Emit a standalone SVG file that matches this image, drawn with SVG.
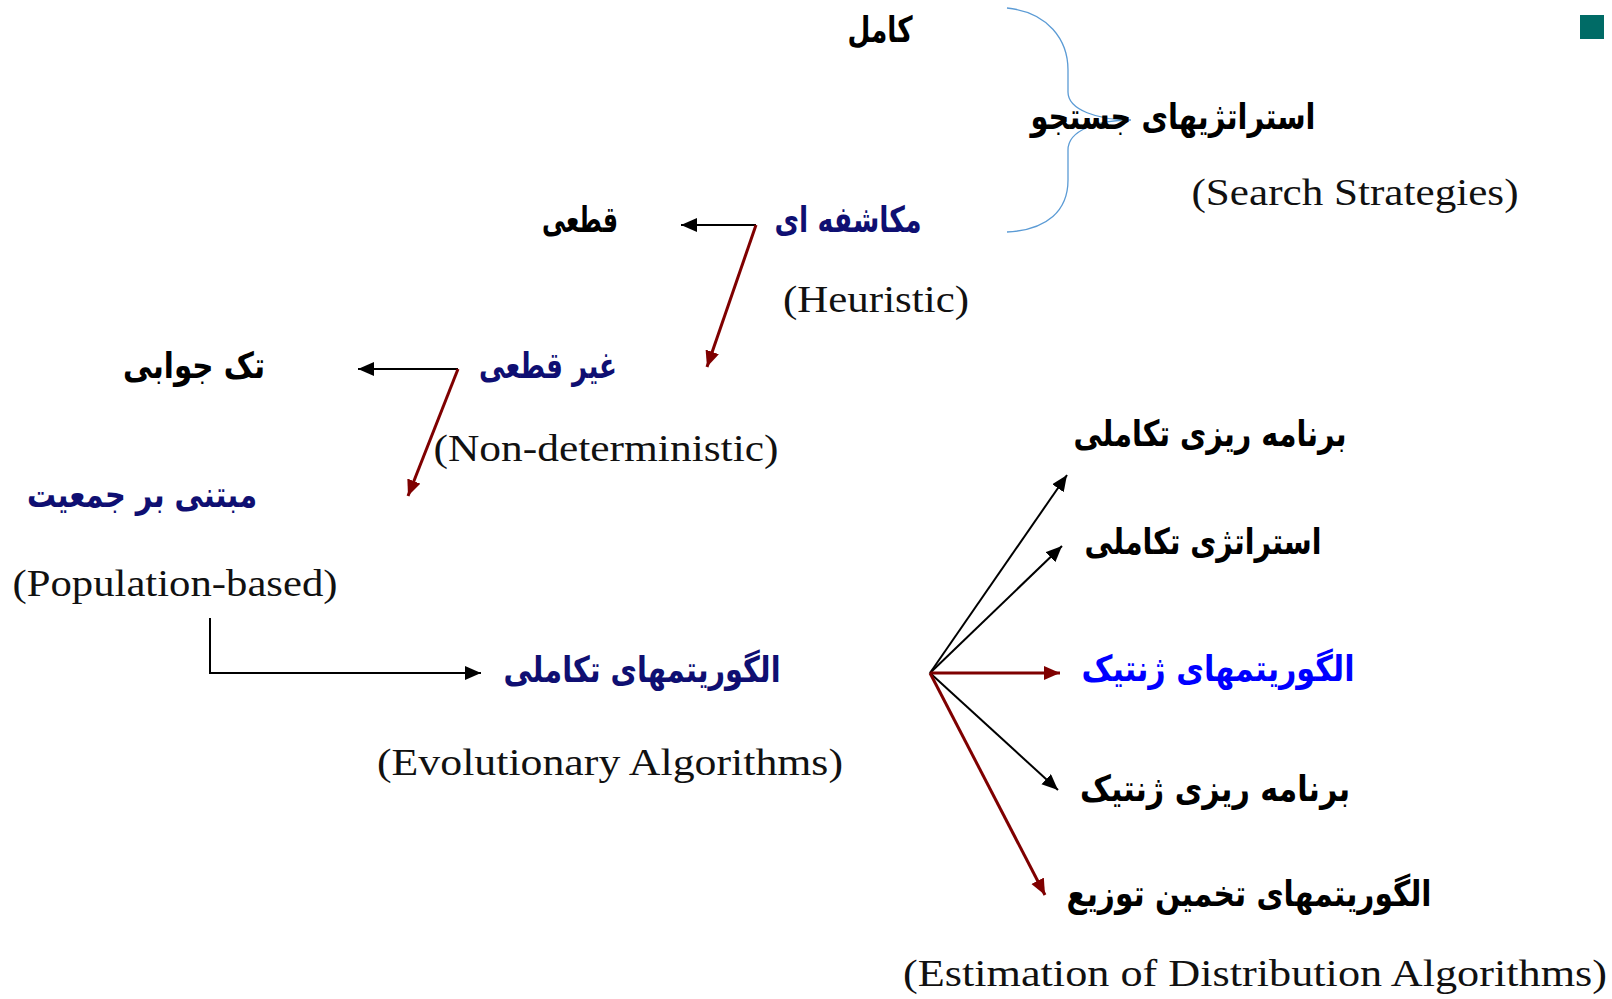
<svg xmlns="http://www.w3.org/2000/svg" width="1612" height="999" viewBox="0 0 1612 999">
<style>
.fa{font-family:"DejaVu Sans",sans-serif;font-weight:bold;font-size:36px;text-anchor:middle}
.blk{fill:#000}
.nav{fill:#0f0f72}
.blu{fill:#0000ff}
.en{font-family:"Liberation Serif",serif;font-size:38px;fill:#111;text-anchor:middle}
.lk{fill:none;stroke:#000;stroke-width:2}
.lr{fill:none;stroke:#7f0000;stroke-width:3}
</style>
<defs>
<marker id="ab" markerUnits="userSpaceOnUse" markerWidth="20" markerHeight="16" refX="16" refY="7" orient="auto"><path d="M0,0 L16,7 L0,14 Z" fill="#000"/></marker>
<marker id="ar" markerUnits="userSpaceOnUse" markerWidth="20" markerHeight="16" refX="16" refY="7" orient="auto"><path d="M0,0 L16,7 L0,14 Z" fill="#7f0000"/></marker>
</defs>
<rect width="1612" height="999" fill="#fff"/>
<rect x="1580" y="15" width="24" height="24" fill="#006b66"/>

<g id="connectors">
<path d="M1007,8 C1048,12 1068,40 1068,70 L1068,92 C1068,110 1098,120 1131,120 C1098,120 1068,130 1068,150 L1068,180 C1068,210 1048,230 1007,232" fill="none" stroke="#5b9bd5" stroke-width="1.3"/>
<path class="lk" d="M756,225 L681,225" marker-end="url(#ab)"/>
<path class="lr" d="M756,225 L707,367" marker-end="url(#ar)"/>
<path class="lk" d="M458,369 L358,369" marker-end="url(#ab)"/>
<path class="lr" d="M458,369 L408,496" marker-end="url(#ar)"/>
<path class="lk" d="M210,618 L210,673 L481,673" marker-end="url(#ab)"/>
<path class="lk" d="M930,673 L1067,475" marker-end="url(#ab)"/>
<path class="lk" d="M930,673 L1062,546" marker-end="url(#ab)"/>
<path class="lr" d="M930,673 L1060,673" marker-end="url(#ar)"/>
<path class="lk" d="M930,673 L1058,790" marker-end="url(#ab)"/>
<path class="lr" d="M930,673 L1045,895" marker-end="url(#ar)"/>
</g>

<g id="n-kamel"><text class="fa blk" x="880" y="42" textLength="65" lengthAdjust="spacingAndGlyphs">کامل</text></g>
<g id="n-search"><text class="fa blk" x="1173" y="129" textLength="285" lengthAdjust="spacingAndGlyphs">استراتژیهای جستجو</text>
<text class="en" x="1355" y="205" textLength="327" lengthAdjust="spacingAndGlyphs">(Search Strategies)</text></g>
<g id="n-heuristic"><text class="fa nav" x="848" y="232" textLength="147" lengthAdjust="spacingAndGlyphs">مکاشفه ای</text>
<text class="en" x="876" y="312" textLength="186" lengthAdjust="spacingAndGlyphs">(Heuristic)</text></g>
<g id="n-ghatei"><text class="fa blk" x="580" y="232" textLength="76" lengthAdjust="spacingAndGlyphs">قطعی</text></g>
<g id="n-nondet"><text class="fa nav" x="548" y="378" textLength="138" lengthAdjust="spacingAndGlyphs">غیر قطعی</text>
<text class="en" x="606" y="461" textLength="345" lengthAdjust="spacingAndGlyphs">(Non-deterministic)</text></g>
<g id="n-single"><text class="fa blk" x="194" y="378" textLength="142" lengthAdjust="spacingAndGlyphs">تک جوابی</text></g>
<g id="n-pop"><text class="fa nav" x="142" y="507" textLength="230" lengthAdjust="spacingAndGlyphs">مبتنی بر جمعیت</text>
<text class="en" x="175" y="596" textLength="325" lengthAdjust="spacingAndGlyphs">(Population-based)</text></g>
<g id="n-ea"><text class="fa nav" x="642" y="682" textLength="277" lengthAdjust="spacingAndGlyphs">الگوریتمهای تکاملی</text>
<text class="en" x="610" y="775" textLength="466" lengthAdjust="spacingAndGlyphs">(Evolutionary Algorithms)</text></g>
<g id="n-ep"><text class="fa blk" x="1210" y="446" textLength="273" lengthAdjust="spacingAndGlyphs">برنامه ریزی تکاملی</text></g>
<g id="n-es"><text class="fa blk" x="1203" y="554" textLength="237" lengthAdjust="spacingAndGlyphs">استراتژی تکاملی</text></g>
<g id="n-ga"><text class="fa blu" x="1218" y="681" textLength="273" lengthAdjust="spacingAndGlyphs">الگوریتمهای ژنتیک</text></g>
<g id="n-gp"><text class="fa blk" x="1215" y="801" textLength="270" lengthAdjust="spacingAndGlyphs">برنامه ریزی ژنتیک</text></g>
<g id="n-eda"><text class="fa blk" x="1249" y="906" textLength="365" lengthAdjust="spacingAndGlyphs">الگوریتمهای تخمین توزیع</text>
<text class="en" x="1255" y="986" textLength="704" lengthAdjust="spacingAndGlyphs">(Estimation of  Distribution Algorithms)</text></g>
</svg>
